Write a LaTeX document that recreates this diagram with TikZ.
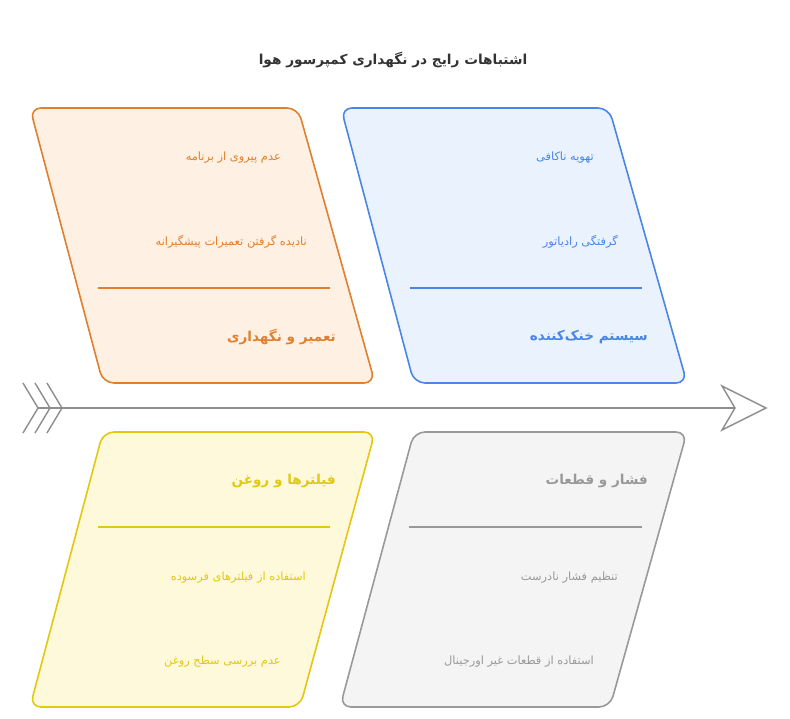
\documentclass[tikz,border=0pt]{standalone}
\usepackage{fontspec}
\TeXXeTstate=1
\newfontfamily\arabicfont[Script=Arabic]{DejaVu Sans}
\definecolor{orS}{HTML}{E0802E}\definecolor{orF}{HTML}{FEF0E3}
\definecolor{blS}{HTML}{4A86E8}\definecolor{blF}{HTML}{EAF2FE}
\definecolor{yeS}{HTML}{E2C810}\definecolor{yeF}{HTML}{FFF9DB}
\definecolor{grS}{HTML}{999999}\definecolor{grF}{HTML}{F4F4F4}
\definecolor{spineC}{HTML}{8E8E8E}
\definecolor{titleC}{HTML}{333333}
\begin{document}
\begin{tikzpicture}[x=1pt,y=-1pt,
  box/.style={line width=1.6pt,rounded corners=11pt},
  sep/.style={line width=1.5pt},
  item/.style={anchor=east,inner sep=0pt,yshift=-2pt,font=\arabicfont\fontsize{11.4}{13}\selectfont},
  head/.style={anchor=east,inner sep=0pt,yshift=-2pt,font=\arabicfont\bfseries\fontsize{13.6}{15}\selectfont},
  bone/.style={draw=spineC,line width=1.4pt}]
\useasboundingbox[fill=white] (0,0) rectangle (790,719);
\node[anchor=center,inner sep=0pt,text=titleC,font=\arabicfont\bfseries\fontsize{13.7}{15}\selectfont] (title) at (393,60) {\beginR اشتباهات رایج در نگهداری کمپرسور هوا\endR};
% orange
\draw[box,draw=orS,fill=orF] (30,108) -- (298,108) -- (375,383) -- (103,383) -- cycle;
\draw[sep,draw=orS] (98,288) -- (330,288);
\node[item,text=orS] (o1) at (281,156) {\beginR عدم پیروی از برنامه\endR};
\node[item,text=orS] (o2) at (307,240) {\beginR نادیده گرفتن تعمیرات پیشگیرانه\endR};
\node[head,text=orS] (oh) at (336,335) {\beginR تعمیر و نگهداری\endR};
% blue
\draw[box,draw=blS,fill=blF] (341,108) -- (609,108) -- (687,383) -- (414,383) -- cycle;
\draw[sep,draw=blS] (410,288) -- (642,288);
\node[item,text=blS] (b1) at (594,156) {\beginR تهویه ناکافی\endR};
\node[item,text=blS] (b2) at (618,240) {\beginR گرفتگی رادیاتور\endR};
\node[head,text=blS] (bh) at (648,335) {\beginR سیستم خنک‌کننده\endR};
% yellow
\draw[box,draw=yeS,fill=yeF] (103,432) -- (375,432) -- (300,707) -- (30,707) -- cycle;
\draw[sep,draw=yeS] (98,527) -- (330,527);
\node[head,text=yeS] (yh) at (336,479) {\beginR فیلترها و روغن\endR};
\node[item,text=yeS] (y1) at (306,576) {\beginR استفاده از فیلترهای فرسوده\endR};
\node[item,text=yeS] (y2) at (281,660) {\beginR عدم بررسی سطح روغن\endR};
% gray
\draw[box,draw=grS,fill=grF] (414,432) -- (687,432) -- (610,707) -- (340,707) -- cycle;
\draw[sep,draw=grS] (409,527) -- (642,527);
\node[head,text=grS] (gh) at (648,479) {\beginR فشار و قطعات\endR};
\node[item,text=grS] (g1) at (618,576) {\beginR تنظیم فشار نادرست\endR};
\node[item,text=grS] (g2) at (594,660) {\beginR استفاده از قطعات غیر اورجینال\endR};
% spine
\coordinate (tail) at (38,408);
\coordinate (tip) at (735,408);
\draw[bone] (tail) -- (tip);
\draw[bone,line join=miter] (23,383) -- (38,408) -- (23,433);
\draw[bone,line join=miter] (35,383) -- (50,408) -- (35,433);
\draw[bone,line join=miter] (47,383) -- (62,408) -- (47,433);
\draw[bone,fill=white,line join=miter] (722,386) -- (766,408) -- (722,430) -- (tip) -- cycle;
\end{tikzpicture}
\end{document}
